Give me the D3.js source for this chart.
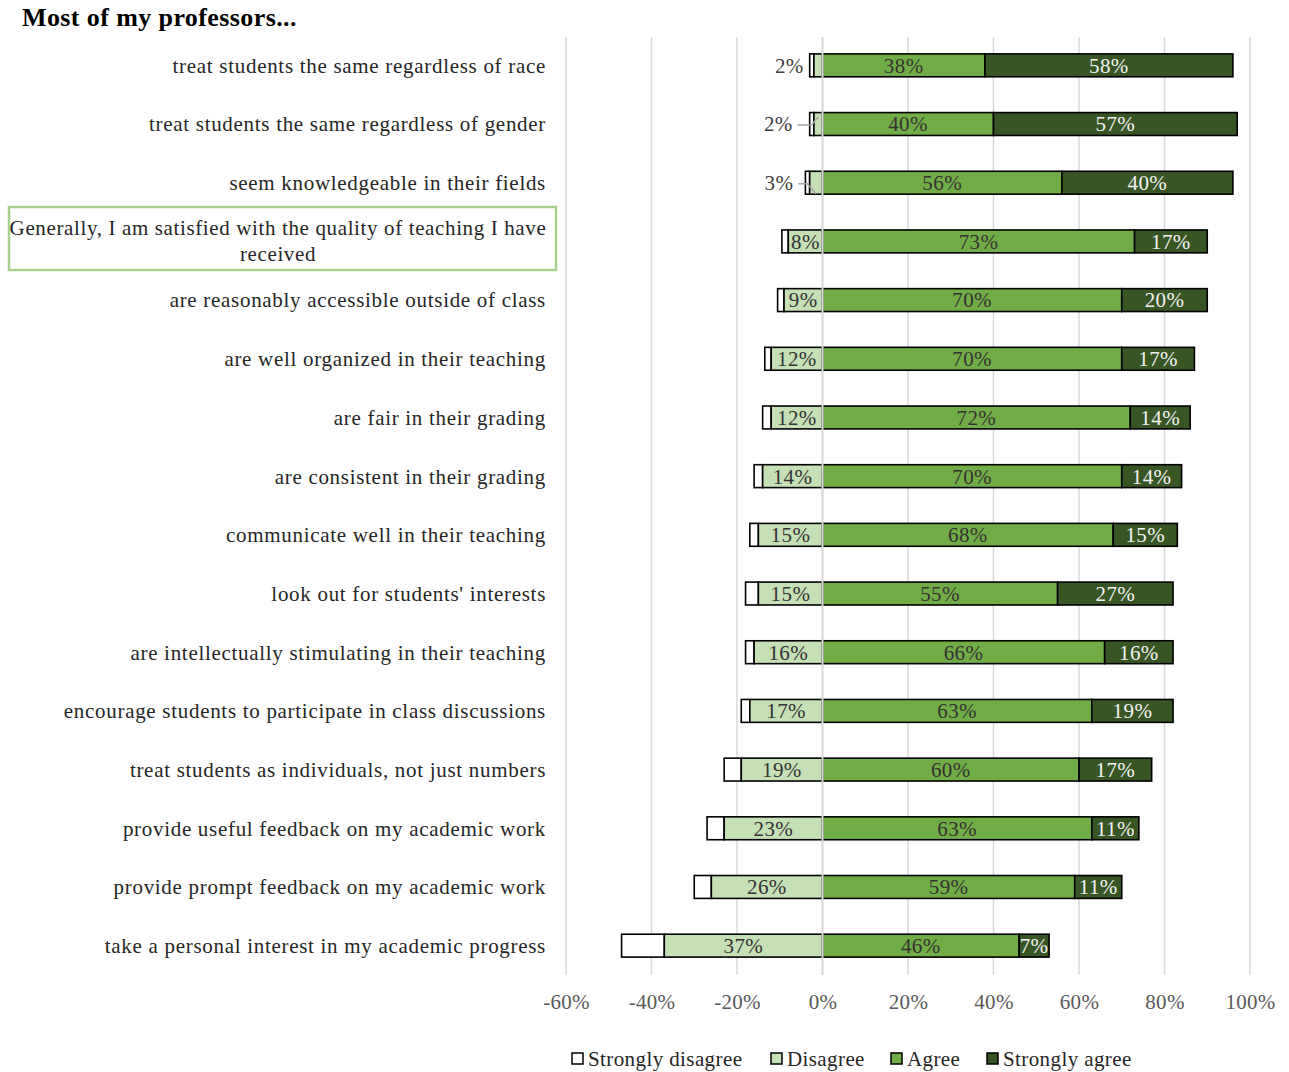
<!DOCTYPE html>
<html>
<head>
<meta charset="utf-8">
<script src="https://cdn.jsdelivr.net/npm/d3@7"></script>
<style>
  html, body { margin: 0; padding: 0; background: #fff; }
  svg { display: block; }
  text { font-family: "Liberation Serif", "DejaVu Serif", serif; }
</style>
</head>
<body>
<svg id="chart" width="1289" height="1072"></svg>
<script>
// Survey items, top to bottom
const categories = [
  "treat students the same regardless of race",
  "treat students the same regardless of gender",
  "seem knowledgeable in their fields",
  "Generally, I am satisfied with the quality of teaching I have received",
  "are reasonably accessible outside of class",
  "are well organized in their teaching",
  "are fair in their grading",
  "are consistent in their grading",
  "communicate well in their teaching",
  "look out for students' interests",
  "are intellectually stimulating in their teaching",
  "encourage students to participate in class discussions",
  "treat students as individuals, not just numbers",
  "provide useful feedback on my academic work",
  "provide prompt feedback on my academic work",
  "take a personal interest in my academic progress"
];

// Percent of respondents per answer
const stronglyDisagree = [1, 1, 1, 1.5, 1.5, 1.5, 2, 2, 2, 3, 2, 2, 4, 4, 4, 10];
const disagree         = [2, 2, 3, 8, 9, 12, 12, 14, 15, 15, 16, 17, 19, 23, 26, 37];
const agree            = [38, 40, 56, 73, 70, 70, 72, 70, 68, 55, 66, 63, 60, 63, 59, 46];
const stronglyAgree    = [58, 57, 40, 17, 20, 17, 14, 14, 15, 27, 16, 19, 17, 11, 11, 7];

const xTicks = [-60, -40, -20, 0, 20, 40, 60, 80, 100];
const seriesNames = ["Strongly disagree", "Disagree", "Agree", "Strongly agree"];
const seriesColors = ["#FFFFFF", "#C5E0B4", "#70AD47", "#375623"];
const highlighted = "Generally, I am satisfied with the quality of teaching I have received";

const svg = d3.select("#chart");

const x = d3.scaleLinear().domain([-60, 100]).range([566, 1250]);
const y = d3.scaleBand().domain(categories).range([36, 975])
  .paddingInner(0.61).paddingOuter(0.305);

// Title
svg.append("text")
  .attr("x", 22).attr("y", 26)
  .attr("font-size", 26).attr("font-weight", "bold").attr("fill", "#000")
  .attr("letter-spacing", 0.4)
  .text("Most of my professors...");

// Vertical gridlines
svg.append("g").selectAll("line").data(xTicks).join("line")
  .attr("x1", d => x(d)).attr("x2", d => x(d))
  .attr("y1", 37).attr("y2", 975)
  .attr("stroke", "#D9D9D9").attr("stroke-width", 1.5);

// Axis tick labels
const xAxis = d3.axisBottom(x).tickValues(xTicks).tickFormat(d => d + "%").tickSize(0).tickPadding(0);
const axisG = svg.append("g").attr("transform", "translate(0,990)").call(xAxis);
axisG.select(".domain").remove();
axisG.selectAll("text")
  .attr("font-family", "Liberation Serif, serif")
  .attr("font-size", 21).attr("fill", "#595959").attr("dy", "0.9em")
  .attr("letter-spacing", 0.3);

// Stacked segments per row
const rows = categories.map((c, i) => {
  const sd = stronglyDisagree[i], di = disagree[i], ag = agree[i], sa = stronglyAgree[i];
  return {
    cat: c, i,
    segs: [
      { k: 0, x0: -(sd + di), x1: -di, v: sd },
      { k: 1, x0: -di, x1: 0, v: di },
      { k: 2, x0: 0, x1: ag, v: ag },
      { k: 3, x0: ag, x1: ag + sa, v: sa }
    ]
  };
});

const barH = y.bandwidth();
const rowG = svg.append("g").selectAll("g").data(rows).join("g")
  .attr("transform", d => `translate(0,${y(d.cat)})`);

rowG.selectAll("rect").data(d => d.segs).join("rect")
  .attr("x", d => x(d.x0)).attr("width", d => x(d.x1) - x(d.x0))
  .attr("y", 0).attr("height", barH)
  .attr("fill", d => seriesColors[d.k])
  .attr("stroke", "#000").attr("stroke-width", 1.6);

// Zero line sits over the bars
svg.append("line")
  .attr("x1", x(0)).attr("x2", x(0)).attr("y1", 37).attr("y2", 975)
  .attr("stroke", "#D9D9D9").attr("stroke-width", 2);

// Value labels
const valueFont = 21;
const outsideGap = [6, 17, 12];
rowG.each(function(d) {
  const g = d3.select(this);
  const cy = barH / 2;
  d.segs.forEach(s => {
    if (s.k === 0) return;
    const mid = (x(s.x0) + x(s.x1)) / 2;
    if (s.k === 1 && s.v < 5) {
      // narrow segment: label outside with a leader line
      const left = x(s.x0 - stronglyDisagree[d.i]);
      const lx = left - outsideGap[d.i];
      g.append("text")
        .attr("x", lx).attr("y", cy).attr("dy", "0.35em")
        .attr("text-anchor", "end").attr("font-size", valueFont).attr("fill", "#404040")
        .attr("letter-spacing", 0.4)
        .text(s.v + "%");
      if (d.i > 0) {
        const up = d.i === 1 ? -7 : 11;
        g.append("path")
          .attr("d", `M${lx + 5},${cy + 1}H${left + 2}L${mid},${cy + up}`)
          .attr("fill", "none").attr("stroke", "#A6A6A6").attr("stroke-width", 1.5);
      }
      return;
    }
    g.append("text")
      .attr("x", mid).attr("y", cy).attr("dy", "0.35em")
      .attr("text-anchor", "middle").attr("font-size", valueFont)
      .attr("letter-spacing", 0.4)
      .attr("fill", s.k === 3 ? "#F2F2F2" : "#333333")
      .text(s.v + "%");
  });
});

// Category labels
const labelRight = 546;
const catFont = 21, catSpacing = 0.7;
categories.forEach(c => {
  const cy = y(c) + barH / 2;
  if (c === highlighted) {
    svg.append("rect")
      .attr("x", 9).attr("y", 207).attr("width", 547).attr("height", 63)
      .attr("fill", "none").attr("stroke", "#A9D18E").attr("stroke-width", 2.5);
    const t = svg.append("text").attr("text-anchor", "middle")
      .attr("font-size", catFont).attr("letter-spacing", 0.63).attr("fill", "#262626");
    t.append("tspan").attr("x", 278).attr("y", cy - 6)
      .text("Generally, I am satisfied with the quality of teaching I have");
    t.append("tspan").attr("x", 278).attr("y", cy + 20).text("received");
  } else {
    svg.append("text")
      .attr("x", labelRight).attr("y", cy).attr("dy", "0.35em")
      .attr("text-anchor", "end").attr("font-size", catFont)
      .attr("letter-spacing", catSpacing).attr("fill", "#262626")
      .text(c);
  }
});

// Legend
const legendX = [572, 771, 891, 987];
const legend = svg.append("g").selectAll("g").data(seriesNames).join("g")
  .attr("transform", (d, i) => `translate(${legendX[i]},1053)`);
legend.append("rect")
  .attr("width", 11).attr("height", 11)
  .attr("fill", (d, i) => seriesColors[i]).attr("stroke", "#000").attr("stroke-width", 1.5);
legend.append("text")
  .attr("x", 16).attr("y", 6).attr("dy", "0.35em")
  .attr("font-size", 21).attr("letter-spacing", 0.4).attr("fill", "#262626")
  .text(d => d);
</script>
</body>
</html>
